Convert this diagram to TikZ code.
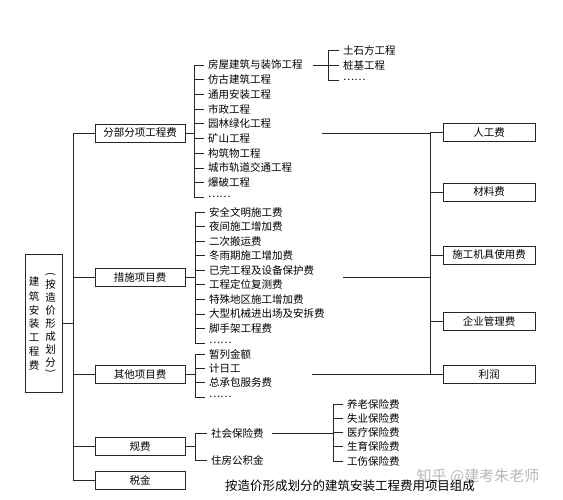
\documentclass[tikz,border=0pt]{standalone}
\usepackage{fontspec}
\setmainfont{Noto Sans CJK SC}
\tikzset{
  ln/.style={draw=black!85, line width=0.6pt},
  box/.style={draw=black!85, line width=0.7pt, minimum height=18pt, inner sep=0pt, font=\fontsize{10.5}{12}\selectfont},
  lvlbox/.style={box, minimum width=90pt},
  rbox/.style={box, minimum width=92pt},
  item/.style={anchor=west, inner xsep=4pt, inner ysep=0pt, font=\fontsize{10.5}{12}\selectfont},
  vchar/.style={inner sep=0pt, font=\fontsize{10.5}{12}\selectfont},
}
\begin{document}
\begin{tikzpicture}[x=1pt,y=-1pt]
\useasboundingbox (0,0) rectangle (563,500);
% root box
\node[box, minimum width=37pt, minimum height=138pt] (root) at (43.5,323) {};
\foreach \t [count=\i] in {建,筑,安,装,工,程,费}
  \node[vchar] (ra\i) at (34,{282+(\i-1)*14}) {\t};
\node[vchar, rotate=-90] (rbo) at (50.5,274.5) {(};
\foreach \t [count=\i] in {按,造,价,形,成,划,分}
  \node[vchar] (rb\i) at (50.5,{284+(\i-1)*13.1}) {\t};
\node[vchar, rotate=-90] (rbc) at (50.5,371.5) {)};
% level 1
\node[lvlbox] (fb) at (140,133) {分部分项工程费};
\node[lvlbox] (cs) at (140,277.5) {措施项目费};
\node[lvlbox] (qt) at (140,374.5) {其他项目费};
\node[lvlbox] (gf) at (140,446.5) {规费};
\node[lvlbox] (sj) at (140,480.5) {税金};
\coordinate (trunk) at (73,0);
\draw[ln] (root.east) -- (root.east -| trunk);
\draw[ln] (fb.west -| trunk) -- (sj.west -| trunk);
\foreach \n in {fb,cs,qt,gf,sj} \draw[ln] (\n.west -| trunk) -- (\n.west);
% group 1
\coordinate (b1) at (194,0);
\foreach \t [count=\i] in {房屋建筑与装饰工程,仿古建筑工程,通用安装工程,市政工程,园林绿化工程,矿山工程,构筑物工程,城市轨道交通工程,爆破工程,……}
  \node[item] (a\i) at (204,{65+(\i-1)*14.7}) {\t};
\draw[ln] (a1.west -| b1) -- (a10.west -| b1);
\foreach \i in {1,...,10} \draw[ln] (a\i.west -| b1) -- (a\i.west);
\draw[ln] (fb.east) -- (fb.east -| b1);
% sub group of a1
\coordinate (b5) at (328,0);
\foreach \t [count=\i] in {土石方工程,桩基工程,……}
  \node[item] (e\i) at (339,{50+(\i-1)*15}) {\t};
\draw[ln] (e1.west -| b5) -- (e3.west -| b5);
\foreach \i in {1,2,3} \draw[ln] (e\i.west -| b5) -- (e\i.west);
\draw[ln] ([xshift=6pt]a1.east) -- (a1.east -| b5);
% group 2
\coordinate (b2) at (195,0);
\foreach \t [count=\i] in {安全文明施工费,夜间施工增加费,二次搬运费,冬雨期施工增加费,已完工程及设备保护费,工程定位复测费,特殊地区施工增加费,大型机械进出场及安拆费,脚手架工程费,……}
  \node[item] (c\i) at (205,{212+(\i-1)*14.55}) {\t};
\draw[ln] (c1.west -| b2) -- (c10.west -| b2);
\foreach \i in {1,...,10} \draw[ln] (c\i.west -| b2) -- (c\i.west);
\draw[ln] (cs.east) -- (cs.east -| b2);
% group 3
\foreach \t [count=\i] in {暂列金额,计日工,总承包服务费,……}
  \node[item] (q\i) at (205,{354+(\i-1)*14.3}) {\t};
\draw[ln] (q1.west -| b2) -- (q4.west -| b2);
\foreach \i in {1,...,4} \draw[ln] (q\i.west -| b2) -- (q\i.west);
\draw[ln] (qt.east) -- (qt.east -| b2);
% group 4
\node[item] (d1) at (207,433) {社会保险费};
\node[item] (d2) at (207,460) {住房公积金};
\draw[ln] (d1.west -| b2) -- (d2.west -| b2);
\foreach \i in {1,2} \draw[ln] (d\i.west -| b2) -- (d\i.west);
\draw[ln] (gf.east) -- (gf.east -| b2);
% insurance
\coordinate (b6) at (333,0);
\foreach \t [count=\i] in {养老保险费,失业保险费,医疗保险费,生育保险费,工伤保险费}
  \node[item] (s\i) at (343,{404+(\i-1)*14.25}) {\t};
\draw[ln] (s1.west -| b6) -- (s5.west -| b6);
\foreach \i in {1,...,5} \draw[ln] (s\i.west -| b6) -- (s\i.west);
\draw[ln] ([xshift=4.5pt]d1.east) -- (d1.east -| b6);
% right side
\node[rbox] (r1) at (489,132.5) {人工费};
\node[rbox] (r2) at (489,192) {材料费};
\node[rbox] (r3) at (489,255) {施工机具使用费};
\node[rbox] (r4) at (489,321) {企业管理费};
\node[rbox] (r5) at (489,374) {利润};
\coordinate (rt) at (430,0);
\draw[ln] (r1.west -| rt) -- (r5.west -| rt);
\foreach \i in {1,...,5} \draw[ln] (r\i.west -| rt) -- (r\i.west);
\coordinate (L1) at (322,133);
\coordinate (L2) at (343,277.5);
\coordinate (L3) at (312,374);
\foreach \l in {L1,L2,L3} \draw[ln] (\l) -- (\l -| rt);
% caption and watermark
\node[inner sep=0pt, text=black!28, font=\fontsize{15}{16}\selectfont] (wm) at (478,476) {知乎 @建考朱老师};
\node[inner sep=0pt, font=\fontsize{12.5}{14}\selectfont] (cap) at (350,486) {按造价形成划分的建筑安装工程费用项目组成};
\end{tikzpicture}
\end{document}
